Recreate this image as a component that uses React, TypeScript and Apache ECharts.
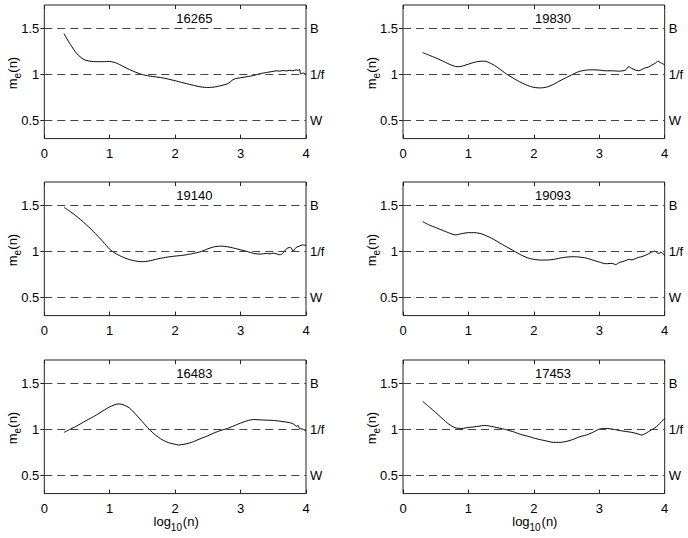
import React, { useEffect, useRef } from "react";
import * as echarts from "echarts";

const titles = ["16265", "19830", "19140", "19093", "16483", "17453"];
const refLevels = [1.5, 1, 0.5];
const refLabels = ["B", "1/f", "W"];
const xTickValues = [0, 1, 2, 3, 4];
const yTickValues = [0.5, 1, 1.5];

const p16265: [number, number][] = [
  [0.3, 1.44], [0.4, 1.32], [0.5, 1.22], [0.6, 1.16], [0.7, 1.14], [0.8, 1.135], [0.9, 1.135],
  [1.0, 1.137], [1.1, 1.12], [1.2, 1.085], [1.3, 1.05], [1.4, 1.02], [1.5, 0.995], [1.6, 0.98],
  [1.7, 0.97], [1.8, 0.96], [1.9, 0.945], [2.0, 0.928], [2.1, 0.91], [2.2, 0.892], [2.3, 0.875],
  [2.4, 0.86], [2.5, 0.855], [2.6, 0.86], [2.7, 0.875], [2.8, 0.895], [2.9, 0.945], [3.0, 0.96],
  [3.1, 0.972], [3.2, 0.985], [3.3, 1.005], [3.4, 1.018], [3.5, 1.03], [3.55, 1.036], [3.6, 1.032],
  [3.65, 1.04], [3.7, 1.034], [3.75, 1.042], [3.8, 1.036], [3.85, 1.046], [3.88, 1.04], [3.9, 1.052],
  [3.92, 1.0], [3.95, 1.012], [4.0, 0.998],
];
const p19830: [number, number][] = [
  [0.3, 1.234], [0.4, 1.205], [0.5, 1.176], [0.6, 1.144], [0.7, 1.11], [0.8, 1.083], [0.85, 1.08],
  [0.9, 1.086], [1.0, 1.108], [1.1, 1.13], [1.2, 1.14], [1.25, 1.14], [1.3, 1.13], [1.4, 1.094],
  [1.5, 1.043], [1.6, 0.993], [1.7, 0.95], [1.8, 0.91], [1.9, 0.878], [2.0, 0.856], [2.1, 0.85],
  [2.2, 0.86], [2.3, 0.888], [2.4, 0.928], [2.5, 0.964], [2.6, 1.0], [2.7, 1.03], [2.8, 1.043],
  [2.9, 1.047], [3.0, 1.043], [3.1, 1.036], [3.2, 1.036], [3.3, 1.032], [3.4, 1.043], [3.45, 1.08],
  [3.5, 1.06], [3.55, 1.045], [3.6, 1.036], [3.65, 1.05], [3.7, 1.068], [3.75, 1.075], [3.8, 1.097],
  [3.85, 1.115], [3.9, 1.14], [3.93, 1.125], [3.95, 1.12], [4.0, 1.1],
];
const p19140: [number, number][] = [
  [0.3, 1.475], [0.4, 1.428], [0.5, 1.374], [0.6, 1.313], [0.7, 1.248], [0.8, 1.176], [0.9, 1.1],
  [1.0, 1.02], [1.1, 0.97], [1.2, 0.935], [1.3, 0.908], [1.4, 0.892], [1.5, 0.885], [1.6, 0.893],
  [1.7, 0.91], [1.8, 0.925], [1.9, 0.937], [2.0, 0.946], [2.1, 0.953], [2.2, 0.964], [2.3, 0.978],
  [2.4, 0.996], [2.5, 1.025], [2.6, 1.047], [2.7, 1.054], [2.8, 1.047], [2.9, 1.032], [3.0, 1.014],
  [3.1, 0.996], [3.2, 0.975], [3.3, 0.968], [3.4, 0.975], [3.45, 0.97], [3.5, 0.978], [3.55, 0.97],
  [3.6, 0.96], [3.65, 0.978], [3.7, 1.025], [3.75, 1.04], [3.78, 1.03], [3.8, 0.996], [3.85, 1.04],
  [3.9, 1.054], [3.95, 1.068], [4.0, 1.061],
];
const p19093: [number, number][] = [
  [0.3, 1.32], [0.4, 1.284], [0.5, 1.255], [0.6, 1.227], [0.7, 1.198], [0.8, 1.176], [0.9, 1.19],
  [1.0, 1.2], [1.1, 1.2], [1.2, 1.187], [1.3, 1.158], [1.4, 1.122], [1.5, 1.079], [1.6, 1.04],
  [1.7, 1.0], [1.8, 0.96], [1.9, 0.928], [2.0, 0.91], [2.1, 0.903], [2.2, 0.903], [2.3, 0.91],
  [2.4, 0.924], [2.5, 0.935], [2.6, 0.939], [2.7, 0.935], [2.8, 0.924], [2.9, 0.903], [3.0, 0.881],
  [3.1, 0.863], [3.2, 0.867], [3.25, 0.853], [3.3, 0.874], [3.35, 0.885], [3.4, 0.896], [3.45, 0.91],
  [3.5, 0.905], [3.55, 0.918], [3.6, 0.932], [3.65, 0.94], [3.7, 0.953], [3.75, 0.97], [3.8, 0.989],
  [3.85, 1.0], [3.9, 0.975], [3.95, 0.985], [4.0, 0.95],
];
const p16483: [number, number][] = [
  [0.3, 0.964], [0.4, 1.0], [0.5, 1.036], [0.6, 1.076], [0.7, 1.115], [0.8, 1.155], [0.9, 1.2],
  [1.0, 1.241], [1.1, 1.27], [1.15, 1.273], [1.2, 1.266], [1.3, 1.23], [1.4, 1.158], [1.5, 1.079],
  [1.6, 1.0], [1.7, 0.935], [1.8, 0.885], [1.9, 0.853], [2.0, 0.835], [2.05, 0.827], [2.1, 0.831],
  [2.2, 0.845], [2.3, 0.87], [2.4, 0.9], [2.5, 0.928], [2.6, 0.96], [2.7, 0.986], [2.8, 1.007],
  [2.9, 1.036], [3.0, 1.065], [3.1, 1.09], [3.2, 1.104], [3.3, 1.1], [3.4, 1.097], [3.5, 1.094],
  [3.6, 1.086], [3.7, 1.076], [3.75, 1.07], [3.8, 1.058], [3.83, 1.045], [3.85, 1.029], [3.88, 1.04],
  [3.9, 1.007], [3.95, 1.0], [4.0, 0.978],
];
const p17453: [number, number][] = [
  [0.3, 1.302], [0.4, 1.241], [0.5, 1.18], [0.6, 1.115], [0.7, 1.054], [0.8, 1.014], [0.9, 1.007],
  [1.0, 1.018], [1.1, 1.025], [1.2, 1.036], [1.25, 1.04], [1.3, 1.036], [1.4, 1.022], [1.5, 1.007],
  [1.6, 0.989], [1.7, 0.968], [1.8, 0.942], [1.9, 0.924], [2.0, 0.903], [2.1, 0.885], [2.2, 0.87],
  [2.3, 0.856], [2.4, 0.856], [2.5, 0.867], [2.6, 0.888], [2.7, 0.917], [2.8, 0.935], [2.9, 0.964],
  [3.0, 1.0], [3.1, 1.007], [3.2, 1.0], [3.3, 0.986], [3.4, 0.975], [3.5, 0.964], [3.6, 0.946],
  [3.65, 0.935], [3.7, 0.95], [3.75, 0.971], [3.8, 0.993], [3.85, 1.014], [3.9, 1.043], [3.95, 1.079],
  [4.0, 1.115],
];

const panels = [p16265, p19830, p19140, p19093, p16483, p17453];

const FONT = "'Liberation Sans', Arial, Helvetica, sans-serif";

function plainText(text: string, x: number, y: number, size: number, align: string) {
  return {
    type: "text",
    x,
    y,
    silent: true,
    style: {
      text,
      fill: "#000",
      fontSize: size,
      fontFamily: FONT,
      textAlign: align,
      textVerticalAlign: "middle",
      verticalAlign: "middle",
    },
  };
}

export default function App() {
  const ref = useRef<HTMLDivElement>(null);
  useEffect(() => {
    if (!ref.current) return;
    const chart = echarts.init(ref.current, undefined, { renderer: "svg" });
    const lefts = [44.3, 403];
    const tops = [5, 182, 360];
    const W = 261.7;
    const H = 133.6;

    const grids: any[] = [];
    const xAxes: any[] = [];
    const yAxes: any[] = [];
    const series: any[] = [];
    const graphics: any[] = [];

    panels.forEach((data, i) => {
      const col = i % 2;
      const row = Math.floor(i / 2);
      const left = lefts[col];
      const top = tops[row];
      grids.push({
        left,
        top,
        width: W,
        height: H,
        show: true,
        borderColor: "#222",
        borderWidth: 1,
        backgroundColor: "transparent",
        containLabel: false,
        outerBoundsMode: "none",
      });
      const tick = { show: true, inside: true, length: 4, lineStyle: { color: "#222" } };
      const baseX = {
        type: "value",
        gridIndex: i,
        min: 0,
        max: 4,
        interval: 1,
        splitLine: { show: false },
        axisLine: { show: false },
      };
      xAxes.push({
        ...baseX,
        position: "bottom",
        axisLabel: {
          show: true,
          margin: 8,
          color: "#000",
          fontSize: 13,
          fontFamily: FONT,
          customValues: xTickValues,
        },
        axisTick: { ...tick, customValues: xTickValues },
      });
      xAxes.push({
        ...baseX,
        position: "top",
        axisLabel: { show: false },
        axisTick: { ...tick, customValues: xTickValues },
      });
      const baseY = {
        type: "value",
        gridIndex: i,
        min: 0.3,
        max: 1.75,
        splitLine: { show: false },
        axisLine: { show: false },
        axisTick: { ...tick, customValues: yTickValues },
      };
      yAxes.push({
        ...baseY,
        position: "left",
        axisLabel: {
          show: true,
          margin: 5,
          color: "#000",
          fontSize: 13,
          fontFamily: FONT,
          customValues: yTickValues,
        },
      });
      yAxes.push({ ...baseY, position: "right", axisLabel: { show: false } });

      series.push({
        type: "line",
        xAxisIndex: 2 * i,
        yAxisIndex: 2 * i,
        data,
        showSymbol: false,
        symbol: "none",
        smooth: 0.25,
        silent: true,
        lineStyle: { color: "#000", width: 1 },
        markLine: {
          silent: true,
          symbol: ["none", "none"],
          lineStyle: { color: "#444", width: 1, type: [8, 5] },
          label: {
            show: true,
            position: "end",
            distance: 4,
            color: "#000",
            fontSize: 13,
            fontFamily: FONT,
          },
          data: refLevels.map((v, k) => ({
            yAxis: v,
            label: { formatter: refLabels[k] },
          })),
        },
      });

      graphics.push(plainText(titles[i], left + 150, top + 13, 13, "center"));

      // vertical y label m_e(n): plain texts inside a group rotated 90° (reads bottom to top)
      graphics.push({
        type: "group",
        x: left - 32,
        y: top + 68,
        rotation: Math.PI / 2,
        silent: true,
        children: [
          plainText("m", -16.2, 0, 13, "left"),
          plainText("e", -5.4, 5, 10, "left"),
          plainText("(n)", 0.3, 0, 13, "left"),
        ],
      });

      if (row === 2) {
        const cx = left + W / 2 + 1;
        const cy = top + H + 28;
        graphics.push({
          type: "group",
          x: cx,
          y: cy,
          silent: true,
          children: [
            plainText("log", -22.6, 0, 13, "left"),
            plainText("10", -5.3, 5.5, 10, "left"),
            plainText("(n)", 6.7, 0, 13, "left"),
          ],
        });
      }
    });

    chart.setOption({
      animation: false,
      backgroundColor: "#fff",
      grid: grids,
      xAxis: xAxes,
      yAxis: yAxes,
      series,
      graphic: graphics,
    });
    return () => chart.dispose();
  }, []);
  return (
    <div
      ref={ref}
      style={{ position: "absolute", left: 0, top: 0, width: 688, height: 538 }}
    />
  );
}
